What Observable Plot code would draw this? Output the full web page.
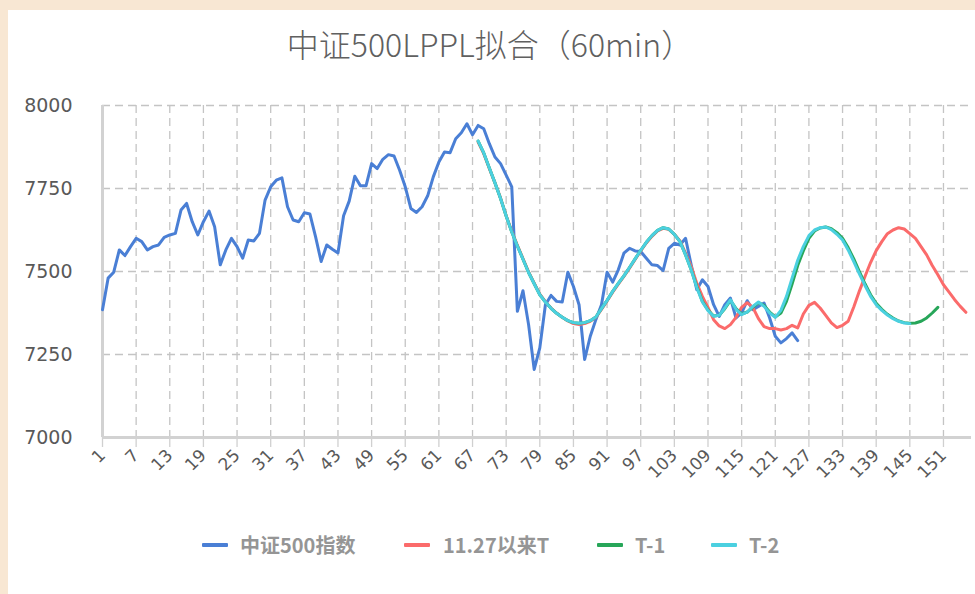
<!DOCTYPE html>
<html>
<head>
<meta charset="utf-8">
<script src="https://cdn.jsdelivr.net/npm/d3@7"></script>
<script src="https://cdn.jsdelivr.net/npm/@observablehq/plot@0.6"></script>
<style>
  html, body { margin: 0; padding: 0; }
  body { width: 975px; height: 594px; background: #f8e7d3; position: relative; overflow: hidden; font-family: "Noto Sans CJK SC", "Noto Sans", sans-serif; }
  #panel { position: absolute; left: 8px; top: 10px; width: 967px; height: 584px; background: #fff; }
  #title { position: absolute; left: 0; width: 980px; top: 20px; text-align: center; font-size: 32px; color: #606060; font-weight: 300; letter-spacing: 0px; }
  #chart { position: absolute; left: 0; top: 90px; }
  .lg-sw { position: absolute; height: 4px; width: 26px; top: 543px; border-radius: 1px; }
  .lg-tx { position: absolute; top: 531px; font-size: 20px; font-weight: bold; color: #959595; line-height: 28px; white-space: nowrap; }
</style>
</head>
<body>
<div id="panel"></div>
<div id="title">中证500LPPL拟合（60min）</div>
<div id="chart"></div>
<div id="legend"></div>
<script>
// ---- data ----
const seriesNames = ["中证500指数", "11.27以来T", "T-1", "T-2"];
const seriesColors = ["#4a7fd5", "#fb6b6b", "#27a659", "#4bd0e0"];
const xTicks = [1,7,13,19,25,31,37,43,49,55,61,67,73,79,85,91,97,103,109,115,121,127,133,139,145,151];
const yTicks = [7000,7250,7500,7750,8000];

// 中证500指数, index 1..125
const csi500 = [
  7385,7480,7498,7565,7548,7575,7600,7590,7565,7575,
  7580,7603,7610,7615,7685,7705,7650,7610,7650,7682,
  7635,7520,7565,7600,7575,7540,7595,7592,7615,7715,
  7755,7775,7782,7695,7655,7650,7677,7673,7605,7530,
  7580,7567,7556,7668,7712,7787,7758,7758,7825,7810,
  7838,7852,7848,7805,7755,7690,7678,7695,7728,7785,
  7830,7860,7858,7900,7918,7945,7912,7940,7930,7885,
  7845,7825,7790,7755,7380,7442,7340,7205,7270,7400,
  7428,7410,7408,7498,7455,7400,7235,7305,7355,7400,
  7498,7468,7505,7555,7570,7562,7560,7540,7520,7518,
  7503,7570,7585,7580,7600,7520,7445,7475,7455,7400,
  7365,7400,7420,7360,7375,7412,7385,7395,7405,7360,
  7305,7285,7298,7315,7292
];
const fitStart = 68;
// T-2, index 68..145
const t2 = [
  7893,7857,7812,7767,7720,7667,7619,7577,7537,7497,
  7463,7430,7408,7389,7374,7362,7352,7346,7344,7346,
  7352,7363,7388,7413,7440,7464,7487,7512,7538,7564,
  7588,7608,7624,7632,7628,7612,7590,7550,7505,7452,
  7408,7382,7365,7368,7390,7415,7386,7370,7378,7395,
  7408,7395,7375,7362,7383,7425,7480,7534,7575,7608,
  7625,7632,7634,7626,7612,7595,7565,7530,7493,7458,
  7425,7400,7383,7369,7358,7350,7345,7343
];
// T-1, index 68..150
const t1 = [
  7893,7857,7812,7767,7720,7667,7619,7577,7537,7497,
  7463,7430,7408,7389,7374,7362,7352,7346,7344,7346,
  7352,7363,7388,7413,7440,7464,7487,7512,7538,7564,
  7588,7608,7624,7632,7628,7612,7590,7550,7505,7455,
  7410,7384,7366,7368,7388,7413,7388,7372,7378,7393,
  7406,7398,7378,7363,7375,7410,7462,7518,7562,7600,
  7622,7631,7634,7629,7617,7600,7572,7538,7500,7463,
  7430,7404,7386,7371,7360,7351,7346,7344,7345,7350,
  7360,7375,7392
];
// 11.27以来T, index 68..155
const tSince = [
  7890,7855,7810,7767,7721,7668,7621,7579,7539,7499,
  7465,7432,7409,7390,7375,7362,7351,7343,7340,7343,
  7350,7362,7386,7411,7438,7462,7485,7510,7536,7562,
  7586,7606,7622,7630,7627,7612,7592,7555,7515,7465,
  7425,7392,7355,7336,7328,7340,7362,7392,7406,7392,
  7358,7334,7328,7328,7324,7328,7338,7330,7372,7398,
  7407,7390,7368,7345,7331,7338,7350,7393,7441,7485,
  7527,7563,7590,7614,7625,7632,7628,7614,7600,7575,
  7550,7518,7490,7460,7438,7415,7395,7377
];

// ---- build table ----
const rows = [];
csi500.forEach((v, k) => rows.push({s: seriesNames[0], i: k + 1, v}));
tSince.forEach((v, k) => rows.push({s: seriesNames[1], i: fitStart + k, v}));
t1.forEach((v, k) => rows.push({s: seriesNames[2], i: fitStart + k, v}));
t2.forEach((v, k) => rows.push({s: seriesNames[3], i: fitStart + k, v}));

const W = 975, H = 410;
const chart = Plot.plot({
  width: W,
  height: H,
  marginLeft: 102,
  marginRight: 4,
  marginTop: 15,
  marginBottom: 63,
  style: {background: "transparent", fontFamily: "DejaVu Sans, sans-serif"},
  x: {type: "linear", domain: [1, 156]},
  y: {domain: [7000, 8000]},
  color: {domain: seriesNames, range: seriesColors},
  marks: [
    Plot.gridX(xTicks.slice(1), {stroke: "#c4c4c4", strokeOpacity: 1, strokeWidth: 1.3, strokeDasharray: "8,5"}),
    Plot.gridY(yTicks.slice(1), {stroke: "#c4c4c4", strokeOpacity: 1, strokeWidth: 1.3, strokeDasharray: "8,5"}),
    Plot.axisY({ticks: yTicks, tickFormat: d => String(d), tickSize: 0, tickPadding: 30, fontSize: 19, fill: "#595959", label: null}),
    Plot.axisX({ticks: xTicks, tickFormat: d => String(d), tickRotate: -45, tickSize: 10, tickPadding: 5, fontSize: 17, fill: "#595959", stroke: "#d0d0d0", strokeWidth: 1.3, label: null}),
    Plot.ruleX([1], {stroke: "#d2d2d2", strokeWidth: 3}),
    Plot.ruleY([7000], {stroke: "#d2d2d2", strokeWidth: 3}),
    Plot.line(rows, {x: "i", y: "v", z: "s", stroke: "s", strokeWidth: 3, curve: "linear"})
  ]
});
document.getElementById("chart").appendChild(chart);

// ---- legend ----
const swX = [202, 404, 597, 711];
const txX = [240, 443, 635, 749];
const lg = document.getElementById("legend");
seriesNames.forEach((n, k) => {
  const sw = document.createElement("div");
  sw.className = "lg-sw"; sw.style.left = swX[k] + "px"; sw.style.background = seriesColors[k];
  const tx = document.createElement("div");
  tx.className = "lg-tx"; tx.style.left = txX[k] + "px"; tx.textContent = n;
  lg.appendChild(sw); lg.appendChild(tx);
});
</script>
</body>
</html>
